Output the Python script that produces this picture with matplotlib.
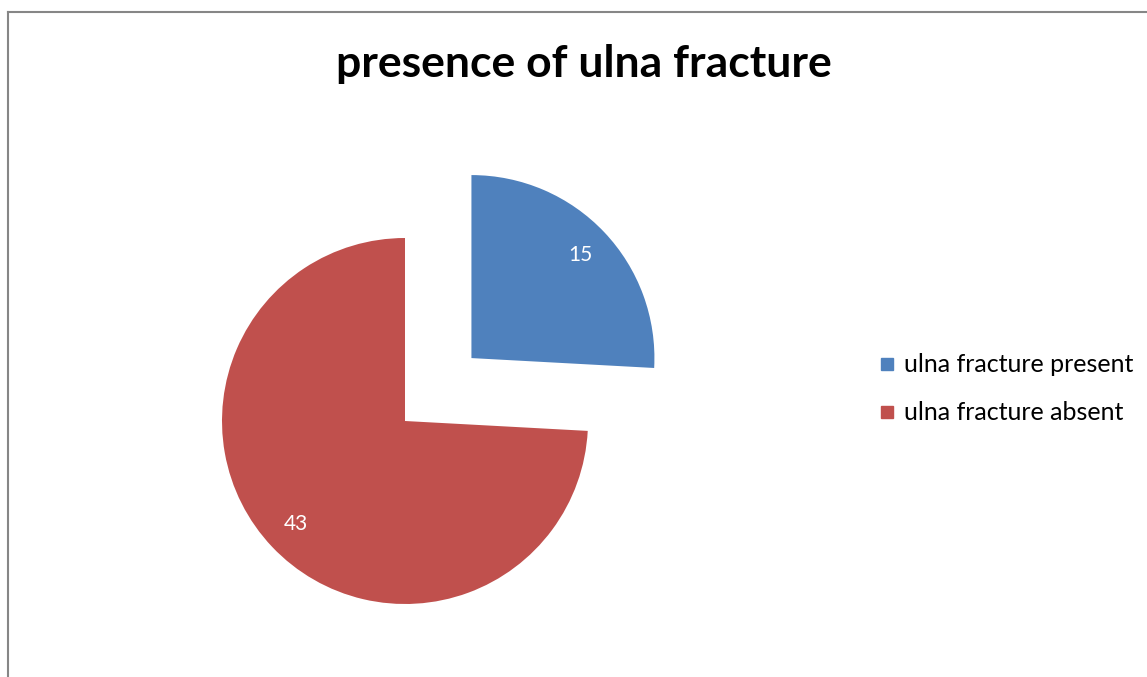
import matplotlib
matplotlib.use("Agg")
import matplotlib.pyplot as plt
from matplotlib.lines import Line2D

plt.rcParams['font.family'] = ['Lato', 'DejaVu Sans']

labels = ['ulna fracture present', 'ulna fracture absent']
values = [15, 43]
colors = ['#4F81BD', '#C0504D']

W, H = 1147, 677
fig = plt.figure(figsize=(W / 100, H / 100), dpi=100)

# pie placed so radius 1 = 183 px, centre at (405, 421) px
r = 183.0
x0, x1, y0, y1 = -1.2, 1.6, -1.2, 1.6
cx, cy = 405, 421
ax = fig.add_axes([(cx + x0 * r) / W, (H - (cy - y0 * r)) / H,
                   (x1 - x0) * r / W, (y1 - y0) * r / H])
wedges, texts = ax.pie(values, colors=colors, startangle=90, counterclock=False,
                       explode=[0.5, 0], labels=[str(v) for v in values],
                       labeldistance=0.82, radius=1,
                       textprops=dict(color='white', fontsize=15))
for t in texts:
    t.set_ha('center')
    t.set_va('center')
ax.set_xlim(x0, x1)
ax.set_ylim(y0, y1)
ax.set_aspect('equal')
ax.axis('off')

fig.text(584 / W, 1 - 64 / H, 'presence of ulna fracture', ha='center', va='center',
         fontsize=32, fontweight='bold', color='black')

handles = [Line2D([], [], marker='s', ls='', color=c, markersize=9) for c in colors]
fig.legend(handles, labels, loc='center left', bbox_to_anchor=(852 / W, 1 - 389 / H),
           frameon=False, fontsize=18, handletextpad=0.2, labelspacing=1.0,
           handlelength=1.0)

# chart border (left and top)
fig.add_artist(Line2D([8 / W, 8 / W], [0, 1 - 12 / H], color='#868686', lw=1.5,
                      transform=fig.transFigure))
fig.add_artist(Line2D([8 / W, 1], [1 - 12 / H, 1 - 12 / H], color='#868686', lw=1.5,
                      transform=fig.transFigure))

fig.savefig('out.png', dpi=100)
